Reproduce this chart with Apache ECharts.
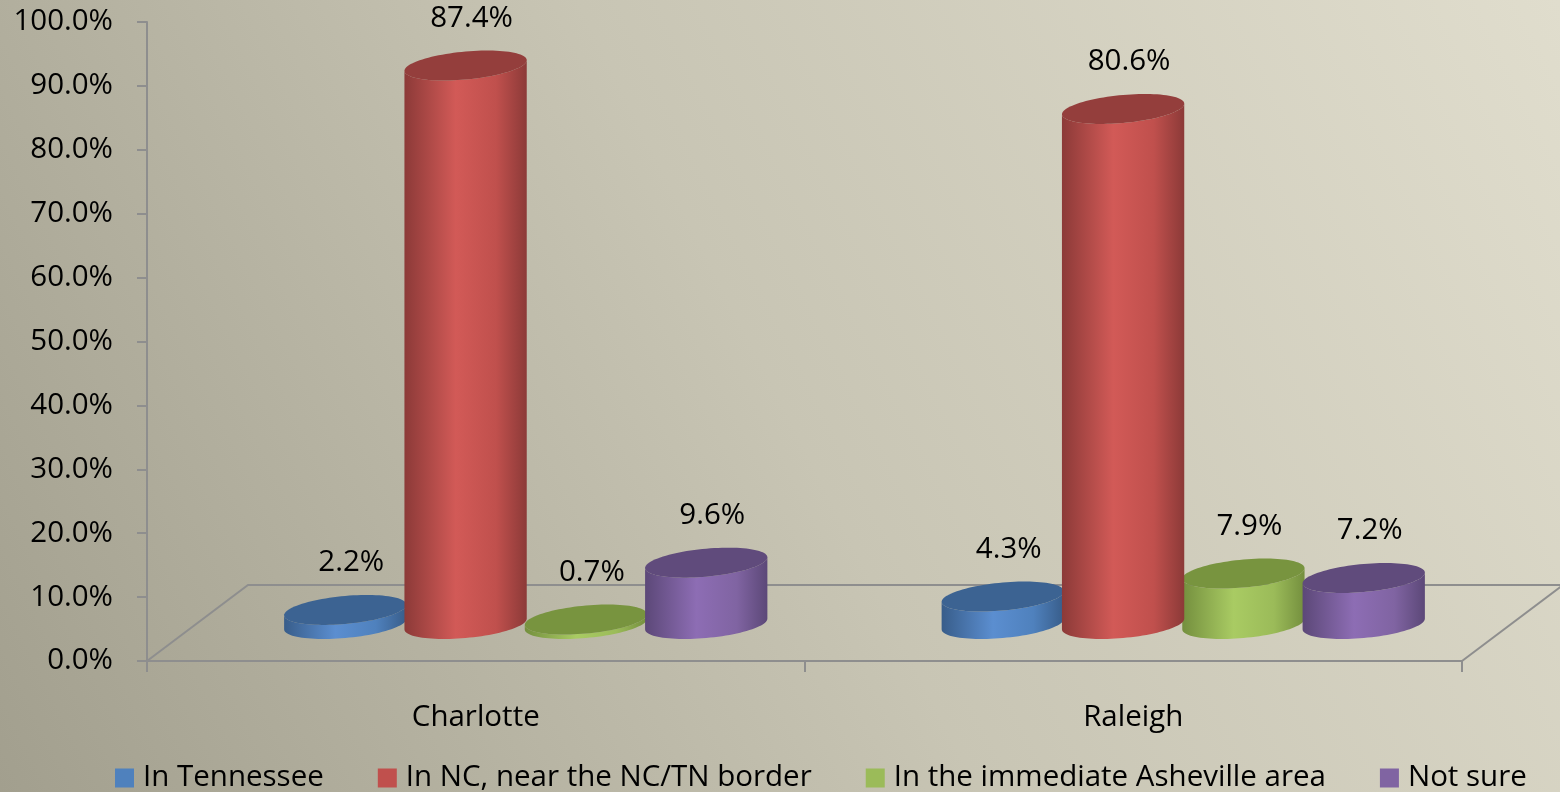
<!DOCTYPE html>
<html>
<head>
<meta charset="utf-8">
<script src="https://cdn.jsdelivr.net/npm/echarts@6/dist/echarts.min.js"></script>
<style>
html,body{margin:0;padding:0;}
#chart{width:1560px;height:792px;}
</style>
</head>
<body>
<div id="chart"></div>
<script>
// ---- data ----
const categories = ['Charlotte', 'Raleigh'];
const seriesNames = ['In Tennessee', 'In NC, near the NC/TN border', 'In the immediate Asheville area', 'Not sure'];
const tennessee = [2.2, 4.3];
const ncBorder = [87.4, 80.6];
const asheville = [0.7, 7.9];
const notSure = [9.6, 7.2];
const yMin = 0, yMax = 100, yStep = 10;

// ---- styles ----
const FONT = '"Open Sans", "Noto Sans", sans-serif';
const palette = [
  { base: '#4f81bd', light: '#5b8ed0', dark: '#385d8a', top: '#3c6392' },
  { base: '#c0504d', light: '#d25a57', dark: '#8c3a38', top: '#943e3c' },
  { base: '#9bbb59', light: '#a9cb63', dark: '#748f3e', top: '#78943f' },
  { base: '#8064a2', light: '#8d6db4', dark: '#5c4878', top: '#604b7c' }
];
const DEPTH_DX = 101, DEPTH_DY = -76;
const BAR_DX = 50, BAR_DY = -37;
const TILT = Math.tan(5 * Math.PI / 180);
const RY = 14;
const AXIS_COLOR = '#8e8e8e';

function ellPt(cx, cy, rx, t) {
  return [cx + rx * Math.cos(t), cy + RY * Math.sin(t) - rx * Math.cos(t) * TILT];
}

function cylinderRender(si) {
  return function (params, api) {
    const cat = api.value(0), val = api.value(1);
    const base = api.coord([cat, 0]);
    const top = api.coord([cat, val]);
    const band = api.size([1, 0])[0];
    const step = band * 0.183;
    const rx = band * 0.093;
    const cx = base[0] + (si - 1.5) * step + BAR_DX;
    const by = base[1] + BAR_DY;
    const ty = top[1] + BAR_DY;
    const N = 48;
    const body = [];
    body.push([cx - rx, ty + rx * TILT]);
    for (let i = 0; i <= N; i++) {
      const t = Math.PI - Math.PI * i / N;
      body.push(ellPt(cx, by, rx, t));
    }
    for (let i = 0; i <= N; i++) {
      const t = Math.PI * i / N;
      body.push(ellPt(cx, ty, rx, t));
    }
    const topPts = [];
    for (let i = 0; i < N * 2; i++) {
      topPts.push(ellPt(cx, ty, rx, Math.PI * 2 * i / (N * 2)));
    }
    const c = palette[si];
    return {
      type: 'group',
      children: [
        {
          type: 'polygon',
          shape: { points: body },
          style: {
            fill: new echarts.graphic.LinearGradient(0, 0, 1, 0, [
              { offset: 0, color: c.dark },
              { offset: 0.42, color: c.light },
              { offset: 0.75, color: c.base },
              { offset: 1, color: c.dark }
            ])
          }
        },
        {
          type: 'polygon',
          shape: { points: topPts },
          style: { fill: c.top }
        },
        {
          type: 'text',
          style: {
            text: val.toFixed(1) + '%',
            x: cx + 6,
            y: ty - 47,
            align: 'center',
            verticalAlign: 'middle',
            font: '29.5px ' + FONT,
            fill: '#000'
          }
        }
      ]
    };
  };
}

function floorRender(params, api) {
  const cs = params.coordSys;
  const fl = [cs.x, cs.y + cs.height];
  const fr = [cs.x + cs.width, cs.y + cs.height];
  const bl = [fl[0] + DEPTH_DX, fl[1] + DEPTH_DY];
  const br = [fr[0] + DEPTH_DX, fr[1] + DEPTH_DY];
  return {
    type: 'polyline',
    shape: { points: [fl, bl, br, fr] },
    style: { stroke: AXIS_COLOR, lineWidth: 2, fill: null }
  };
}

const valueSets = [tennessee, ncBorder, asheville, notSure];

const series = [{
  type: 'custom',
  name: '__floor',
  silent: true,
  clip: false,
  z: 1,
  renderItem: floorRender,
  data: [[0, 0]],
  encode: { x: 0, y: 1 }
}];
valueSets.forEach((vals, si) => {
  series.push({
    type: 'custom',
    name: seriesNames[si],
    clip: false,
    z: 2 + (si === 1 ? 5 : si),
    itemStyle: { color: palette[si].base },
    renderItem: cylinderRender(si),
    encode: { x: 0, y: 1 },
    data: vals.map((v, i) => [i, v])
  });
});

const chart = echarts.init(document.getElementById('chart'), null, { renderer: 'canvas' });
chart.setOption({
  animation: false,
  backgroundColor: new echarts.graphic.LinearGradient(1, 0, 0, 1, [
    { offset: 0, color: '#e0ddcd' },
    { offset: 0.5, color: '#c8c5b4' },
    { offset: 1, color: '#a29f8e' }
  ]),
  grid: { left: 147, right: 98, top: 22, bottom: 131, containLabel: false },
  legend: {
    data: seriesNames,
    left: 110,
    top: 758,
    itemWidth: 19,
    itemHeight: 19,
    itemGap: 54,
    icon: 'rect',
    textStyle: { fontFamily: FONT, fontSize: 29.5, color: '#000', padding: [0, 0, 0, 4] }
  },
  xAxis: {
    type: 'category',
    data: categories,
    boundaryGap: true,
    axisLine: { show: true, lineStyle: { color: AXIS_COLOR, width: 2 } },
    axisTick: { show: true, length: 11, lineStyle: { color: AXIS_COLOR, width: 2 } },
    axisLabel: { margin: 42, fontFamily: FONT, fontSize: 29.5, color: '#000' },
    splitLine: { show: false }
  },
  yAxis: {
    type: 'value',
    min: yMin,
    max: yMax,
    interval: yStep,
    axisLine: { show: true, lineStyle: { color: AXIS_COLOR, width: 2 } },
    axisTick: { show: true, length: 10, lineStyle: { color: AXIS_COLOR, width: 2 } },
    axisLabel: {
      margin: 34,
      fontFamily: FONT,
      fontSize: 29.5,
      color: '#000',
      formatter: v => v.toFixed(1) + '%'
    },
    splitLine: { show: false }
  },
  series: series
});
</script>
</body>
</html>
